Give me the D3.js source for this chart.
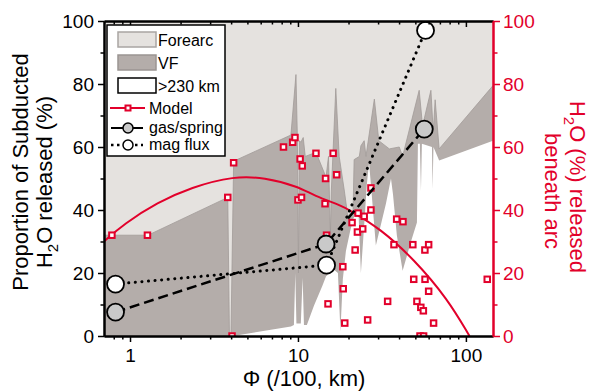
<!DOCTYPE html>
<html>
<head>
<meta charset="utf-8">
<script src="https://cdn.jsdelivr.net/npm/d3@7"></script>
<style>
  body { margin: 0; background: #fff; }
  svg { font-family: "Liberation Sans", Arial, sans-serif; }
</style>
</head>
<body>
<div id="chart"></div>
<script>
// Model arcs (red squares): Phi and % H2O released beneath arc
const arcPhi = [0.78, 1.27, 3.82, 4.14, 4.05, 8.2, 9.3, 9.6, 10.3, 10.6, 10.0, 10.5, 12.8, 16.2, 14.6, 17.0, 14.5, 14.8, 15.1,
  27.2, 27.2, 22.8, 24.8, 21.0, 22.6, 24.3, 18.5, 21.9, 18.6, 19.0, 26.0, 38.7, 42.2, 37.3, 48.3, 57.0, 60.0, 34.2,
  48.9, 57.1, 60.0, 51.1, 53.9, 55.8, 64.2, 53.3, 56.0, 134];
const arcH2O = [32, 32, 44, 55, 0, 60, 61.5, 63, 56.2, 54, 43.2, 44, 58, 58, 50, 51.2, 42, 32, 10.2,
  47, 40, 39, 38, 36, 33, 34, 22, 27.3, 15, 4.1, 5.1, 37.1, 36.3, 29, 29, 27.3, 29, 11,
  18, 18, 14.2, 11, 9.1, 8, 4.1, 0, 0, 18];

// Model curve
const modelPhi = [0.70, 0.92, 1.46, 2.3, 4.2, 6.3, 10, 12.5, 18, 20.6, 31, 49, 78, 105];
const modelH2O = [30.0, 35.6, 42.4, 47.2, 50.8, 50.3, 47.5, 44.5, 41.5, 39.8, 34, 24.4, 11.7, 0];

// gas/spring and magmatic flux estimates
const gasPhi = [0.82, 14.7, 56.5];
const gasH2O = [7.6, 29.2, 65.7];
const magPhi = [0.82, 14.8, 57.5];
const magH2O = [16.5, 22.5, 97];

// Upper edge of the VF band (forearc above)
const vfTopPhi = [0.70, 0.78, 1.28, 3.82, 3.91, 3.99, 4.14, 9.08, 9.73, 9.93, 10.07, 10.2, 10.4, 10.75, 11.05,
  12.8, 14.7, 15.2, 15.6, 15.8, 16.8, 17.6, 18.9, 19.8, 21.3, 21.6, 23.2, 23.7, 24.8, 25.4, 28.5, 30.3,
  35.0, 40.1, 42.0, 52.7, 55.2, 61.9, 63.9, 65.6, 69.3, 145];
const vfTopH2O = [32, 32, 32, 44, 0, 0, 55.5, 63.8, 83, 62, 20, 62, 61.5, 63, 57,
  58.3, 50.4, 57, 32, 46, 78.6, 57, 46, 38, 40, 56, 57, 60.4, 62, 57, 75.2, 62,
  59.4, 60, 57, 78, 66.7, 78, 64.7, 75, 59.4, 79.5];

// Lower edge of the VF band (>230 km below)
const vfBotPhi = [0.70, 4.1, 6.9, 9.08, 9.46, 9.64, 9.79, 10.4, 10.66, 10.86, 11.3, 12.45, 14.0, 14.7, 16.4,
  17.3, 17.9, 18.5, 19.3, 20.4, 21.3, 22.4, 22.9, 23.7, 25.0, 25.7, 26.5, 27.2, 29.1, 33.4, 35.8, 36.8,
  38.8, 42.0, 47.1, 51.1, 51.8, 53.2, 54.0, 54.7, 62.8, 63.3, 64.1, 69.3, 145];
const vfBotH2O = [0, 0, 2, 3, 3.5, 20, 4, 4, 18.5, 3.5, 3.5, 9.6, 16, 19, 21,
  20, 1.5, 18, 27, 33, 37, 40, 40, 20, 38, 48, 55, 48, 28.7, 42, 50, 45,
  32, 20.7, 30, 36, 61, 61, 46, 61, 60, 46.7, 60, 55.7, 62];

const majorX = [1, 10, 100];
const minorX = [0.8, 0.9, 2, 3, 4, 5, 6, 7, 8, 9, 20, 30, 40, 50, 60, 70, 80, 90];
const majorY = [0, 20, 40, 60, 80, 100];
const minorY = [10, 30, 50, 70, 90];

const RED = "#e2002b";
const FOREARC = "#e5e2df";
const VF = "#b4adaa";

const width = 590, height = 392;
const pLeft = 104, pRight = 493, pTop = 21, pBottom = 336;

const x = d3.scaleLog().domain([0.70, 145]).range([pLeft, pRight]);
const y = d3.scaleLinear().domain([0, 100]).range([pBottom, pTop]);

const svg = d3.select("#chart").append("svg")
  .attr("width", width).attr("height", height);

svg.append("clipPath").attr("id", "plot")
  .append("rect")
  .attr("x", pLeft).attr("y", pTop)
  .attr("width", pRight - pLeft).attr("height", pBottom - pTop);

const plot = svg.append("g").attr("clip-path", "url(#plot)");

// forearc background
plot.append("rect")
  .attr("x", pLeft).attr("y", pTop)
  .attr("width", pRight - pLeft).attr("height", pBottom - pTop)
  .attr("fill", FOREARC);

const vfTop = vfTopPhi.map((p, i) => [p, vfTopH2O[i]]);
const vfBot = vfBotPhi.map((p, i) => [p, vfBotH2O[i]]);

const area = d3.area().x(d => x(d[0])).y0(y(0)).y1(d => y(d[1]));
const edge = d3.line().x(d => x(d[0])).y(d => y(d[1]));

plot.append("path").datum(vfTop).attr("d", area).attr("fill", VF);
plot.append("path").datum(vfTop).attr("d", edge)
  .attr("fill", "none").attr("stroke", "#a19b98").attr("stroke-width", 0.8);
plot.append("path").datum(vfBot).attr("d", area).attr("fill", "#fff");

// model curve
const model = modelPhi.map((p, i) => [p, modelH2O[i]]);
plot.append("path").datum(model)
  .attr("d", d3.line().x(d => x(d[0])).y(d => y(d[1])).curve(d3.curveBasis))
  .attr("fill", "none").attr("stroke", RED).attr("stroke-width", 2);

// arcs
plot.selectAll(".arc").data(arcPhi.map((p, i) => [p, arcH2O[i]]))
  .join("rect")
  .attr("x", d => x(d[0]) - 2.75).attr("y", d => y(d[1]) - 2.75)
  .attr("width", 5.5).attr("height", 5.5)
  .attr("fill", "#fff").attr("stroke", RED).attr("stroke-width", 2);

// gas/spring and mag flux lines
const gas = gasPhi.map((p, i) => [p, gasH2O[i]]);
const mag = magPhi.map((p, i) => [p, magH2O[i]]);

svg.append("path").datum(gas).attr("d", edge)
  .attr("fill", "none").attr("stroke", "#000").attr("stroke-width", 2.5)
  .attr("stroke-dasharray", "10,5");
svg.append("path").datum(mag).attr("d", edge)
  .attr("fill", "none").attr("stroke", "#000").attr("stroke-width", 3)
  .attr("stroke-linecap", "round").attr("stroke-dasharray", "0.1,6.5");

svg.selectAll(".gas").data(gas).join("circle")
  .attr("cx", d => x(d[0])).attr("cy", d => y(d[1])).attr("r", 8.5)
  .attr("fill", "#c9c9c9").attr("stroke", "#000").attr("stroke-width", 1.8);
svg.selectAll(".mag").data(mag).join("circle")
  .attr("cx", d => x(d[0])).attr("cy", d => y(d[1])).attr("r", 8.5)
  .attr("fill", "#fff").attr("stroke", "#000").attr("stroke-width", 1.8);

// axes
function styleAxis(g, color, size) {
  g.selectAll("path.domain").attr("stroke", color).attr("stroke-width", 2);
  g.selectAll(".tick line").attr("stroke", color).attr("stroke-width", 1.5);
  g.selectAll(".tick text").attr("fill", color).attr("font-size", size)
    .attr("font-family", "Liberation Sans, Arial, sans-serif");
}

const fmtX = d => d3.format("d")(d);

svg.append("g").attr("transform", `translate(0,${pBottom})`)
  .call(d3.axisBottom(x).tickValues(minorX).tickSize(3.5).tickSizeOuter(0).tickFormat(""))
  .call(g => styleAxis(g, "#000", 18));
svg.append("g").attr("transform", `translate(0,${pBottom})`)
  .call(d3.axisBottom(x).tickValues(majorX).tickSize(6).tickSizeOuter(0).tickPadding(7).tickFormat(fmtX))
  .call(g => styleAxis(g, "#000", 19));

svg.append("g").attr("transform", `translate(0,${pTop})`)
  .call(d3.axisTop(x).tickValues(minorX).tickSize(-3.5).tickSizeOuter(0).tickFormat(""))
  .call(g => styleAxis(g, "#000", 18));
svg.append("g").attr("transform", `translate(0,${pTop})`)
  .call(d3.axisTop(x).tickValues(majorX).tickSize(-6).tickSizeOuter(0).tickFormat(""))
  .call(g => styleAxis(g, "#000", 18));

svg.append("g").attr("transform", `translate(${pLeft},0)`)
  .call(d3.axisLeft(y).tickValues(minorY).tickSize(3.5).tickSizeOuter(0).tickFormat(""))
  .call(g => styleAxis(g, "#000", 18));
svg.append("g").attr("transform", `translate(${pLeft},0)`)
  .call(d3.axisLeft(y).tickValues(majorY).tickSize(6).tickSizeOuter(0).tickPadding(4))
  .call(g => styleAxis(g, "#000", 19));

svg.append("g").attr("transform", `translate(${pRight},0)`)
  .call(d3.axisRight(y).tickValues(minorY).tickSize(4.5).tickSizeOuter(0).tickFormat(""))
  .call(g => styleAxis(g, RED, 18));
svg.append("g").attr("transform", `translate(${pRight},0)`)
  .call(d3.axisRight(y).tickValues(majorY).tickSize(7).tickSizeOuter(0).tickPadding(3))
  .call(g => styleAxis(g, RED, 19));

// axis titles
svg.append("text").attr("transform", "translate(28,172) rotate(-90)")
  .attr("text-anchor", "middle").attr("font-size", 22).text("Proportion of Subducted");
const t2 = svg.append("text").attr("transform", "translate(52,182) rotate(-90)")
  .attr("text-anchor", "middle").attr("font-size", 22);
t2.append("tspan").text("H");
t2.append("tspan").attr("font-size", 15).attr("dy", 6).text("2");
t2.append("tspan").attr("dy", -6).text("O released (%)");

const r1 = svg.append("text").attr("transform", "translate(570,187) rotate(90)")
  .attr("text-anchor", "middle").attr("font-size", 22).attr("fill", RED);
r1.append("tspan").text("H");
r1.append("tspan").attr("font-size", 15).attr("dy", 6).text("2");
r1.append("tspan").attr("dy", -6).text("O (%) released");
svg.append("text").attr("transform", "translate(545,191) rotate(90)")
  .attr("text-anchor", "middle").attr("font-size", 22).attr("fill", RED).text("beneath arc");

svg.append("text").attr("x", 304).attr("y", 386).attr("text-anchor", "middle")
  .attr("font-size", 22).text("Φ (/100, km)");

// legend
const lg = svg.append("g");
lg.append("rect").attr("x", 107).attr("y", 25).attr("width", 118).attr("height", 131)
  .attr("fill", "#fff").attr("stroke", "#000").attr("stroke-width", 1.5);

const swatches = [
  { label: "Forearc", y: 32, fill: FOREARC, stroke: "#a9a5a3" },
  { label: "VF", y: 55, fill: VF, stroke: "#9b9592" },
  { label: ">230 km", y: 78, fill: "#fff", stroke: "#000" }
];
swatches.forEach(s => {
  lg.append("rect").attr("x", 118).attr("y", s.y).attr("width", 38).attr("height", 15)
    .attr("fill", s.fill).attr("stroke", s.stroke).attr("stroke-width", 1.5);
  lg.append("text").attr("x", 158).attr("y", s.y + 14).attr("font-size", 16).text(s.label);
});

lg.append("line").attr("x1", 110).attr("x2", 145).attr("y1", 108).attr("y2", 108)
  .attr("stroke", RED).attr("stroke-width", 2);
lg.append("rect").attr("x", 125.5).attr("y", 105.5).attr("width", 5).attr("height", 5)
  .attr("fill", "#fff").attr("stroke", RED).attr("stroke-width", 2);
lg.append("text").attr("x", 149).attr("y", 114).attr("font-size", 16).text("Model");

lg.append("line").attr("x1", 111).attr("x2", 143).attr("y1", 128).attr("y2", 128)
  .attr("stroke", "#000").attr("stroke-width", 2);
lg.append("circle").attr("cx", 128).attr("cy", 128).attr("r", 5)
  .attr("fill", "#c9c9c9").attr("stroke", "#000").attr("stroke-width", 1.5);
lg.append("text").attr("x", 149).attr("y", 133).attr("font-size", 16).text("gas/spring");

lg.append("line").attr("x1", 111).attr("x2", 143).attr("y1", 145).attr("y2", 145)
  .attr("stroke", "#000").attr("stroke-width", 2.5).attr("stroke-dasharray", "2.5,3.5");
lg.append("circle").attr("cx", 128).attr("cy", 145).attr("r", 5)
  .attr("fill", "#fff").attr("stroke", "#000").attr("stroke-width", 1.5);
lg.append("text").attr("x", 149).attr("y", 150).attr("font-size", 16).text("mag flux");
</script>
</body>
</html>
